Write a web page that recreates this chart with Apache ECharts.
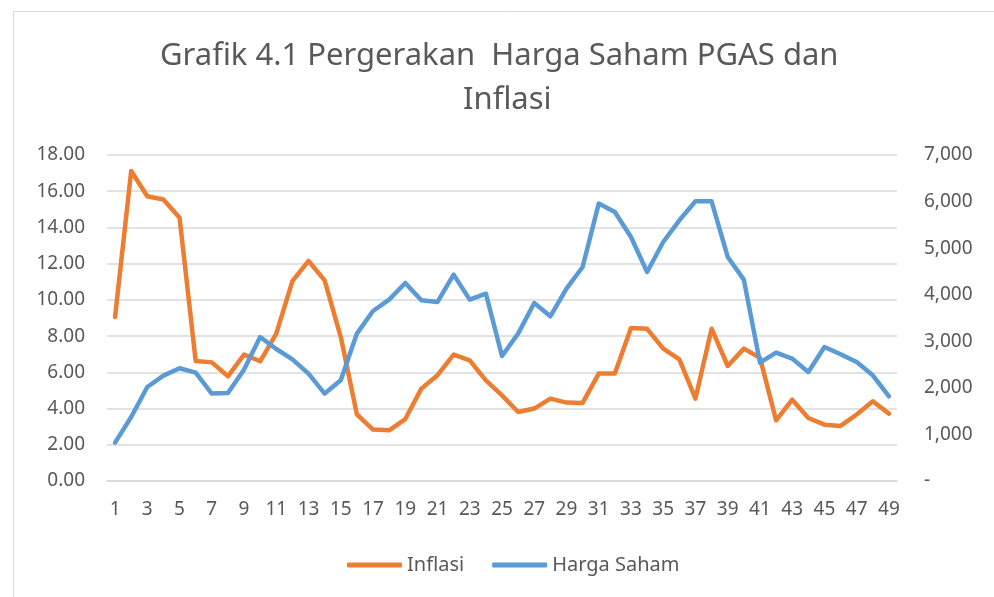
<!DOCTYPE html>
<html>
<head>
<meta charset="utf-8">
<script src="https://cdn.jsdelivr.net/npm/echarts@6/dist/echarts.min.js"></script>
<style>
  html, body { margin: 0; padding: 0; background: #fff; }
  #chart { width: 994px; height: 597px; }
</style>
</head>
<body>
<div id="chart"></div>
<script>
// data
var periode = [];
for (var i = 1; i <= 49; i++) periode.push(String(i));

var inflasi = [9.06, 17.12, 15.72, 15.54, 14.54, 6.63, 6.55, 5.78, 6.98, 6.61,
  8.14, 11.04, 12.15, 11.08, 7.95, 3.68, 2.84, 2.80, 3.42, 5.10,
  5.84, 6.98, 6.66, 5.56, 4.73, 3.81, 4.00, 4.55, 4.33, 4.31,
  5.93, 5.93, 8.45, 8.40, 7.31, 6.72, 4.55, 8.41, 6.35, 7.31,
  6.81, 3.35, 4.49, 3.48, 3.11, 3.04, 3.67, 4.40, 3.72];

var hargaSaham = [825, 1374, 2018, 2263, 2420, 2328, 1877, 1890, 2392, 3092,
  2834, 2613, 2306, 1877, 2162, 3165, 3650, 3895, 4252, 3880,
  3844, 4432, 3895, 4024, 2684, 3165, 3822, 3537, 4131, 4595,
  5957, 5776, 5239, 4488, 5132, 5598, 6006, 6006, 4810, 4325,
  2542, 2757, 2628, 2341, 2877, 2721, 2555, 2270, 1819];

var chart = echarts.init(document.getElementById('chart'));
var txt = '#595959';
var font = 'Noto Sans';
var titleStyle = {
    color: txt,
    fontFamily: font,
    fontWeight: 'normal',
    fontSize: 31,
    lineHeight: 44
};

var option = {
    animation: false,
    backgroundColor: '#fff',
    // title is split in two lines, like the original
    title: [{
        text: 'Grafik 4.1 Pergerakan  Harga Saham PGAS dan',
        left: 155,
        top: 29,
        textStyle: titleStyle
    }, {
        text: 'Inflasi',
        left: 458,
        top: 73,
        textStyle: titleStyle
    }],
    graphic: [{
        type: 'rect',
        shape: { x: 13.5, y: 11.5, width: 1000, height: 600 },
        style: { fill: 'none', stroke: '#d9d9d9', lineWidth: 1 }
    }],
    legend: {
        bottom: 17,
        left: 342,
        itemWidth: 55,
        itemHeight: 5,
        itemGap: 28,
        icon: 'roundRect',
        textStyle: { color: txt, fontFamily: font, fontSize: 20 },
        data: ['Inflasi', 'Harga Saham']
    },
    grid: {
        top: 155,
        left: 107,
        right: 97,
        bottom: 116
    },
    xAxis: {
        type: 'category',
        boundaryGap: true,
        data: periode,
        axisLine: { lineStyle: { color: '#d9d9d9', width: 1.5 } },
        axisTick: { show: false },
        axisLabel: {
            interval: 1,
            color: txt,
            fontFamily: font,
            fontSize: 19,
            margin: 19
        }
    },
    yAxis: [{
        type: 'value',
        min: 0,
        max: 18,
        interval: 2,
        axisLine: { show: false },
        axisTick: { show: false },
        splitLine: { lineStyle: { color: '#d9d9d9', width: 1.5 } },
        axisLabel: {
            color: txt,
            fontFamily: font,
            fontSize: 19,
            margin: 22,
            formatter: function (v) { return v.toFixed(2); }
        }
    }, {
        type: 'value',
        min: 0,
        max: 7000,
        interval: 1000,
        axisLine: { show: false },
        axisTick: { show: false },
        splitLine: { show: false },
        axisLabel: {
            color: txt,
            fontFamily: font,
            fontSize: 19,
            margin: 27,
            formatter: function (v) {
                if (v === 0) return '-';
                return v.toLocaleString('en-US');
            }
        }
    }],
    series: [{
        name: 'Inflasi',
        type: 'line',
        data: inflasi,
        yAxisIndex: 0,
        symbol: 'none',
        color: '#ED7D31',
        lineStyle: { width: 4.5, cap: 'round', join: 'round' }
    }, {
        name: 'Harga Saham',
        type: 'line',
        data: hargaSaham,
        yAxisIndex: 1,
        symbol: 'none',
        color: '#5B9BD5',
        lineStyle: { width: 4.5, cap: 'round', join: 'round' }
    }]
};
chart.setOption(option);
</script>
</body>
</html>
